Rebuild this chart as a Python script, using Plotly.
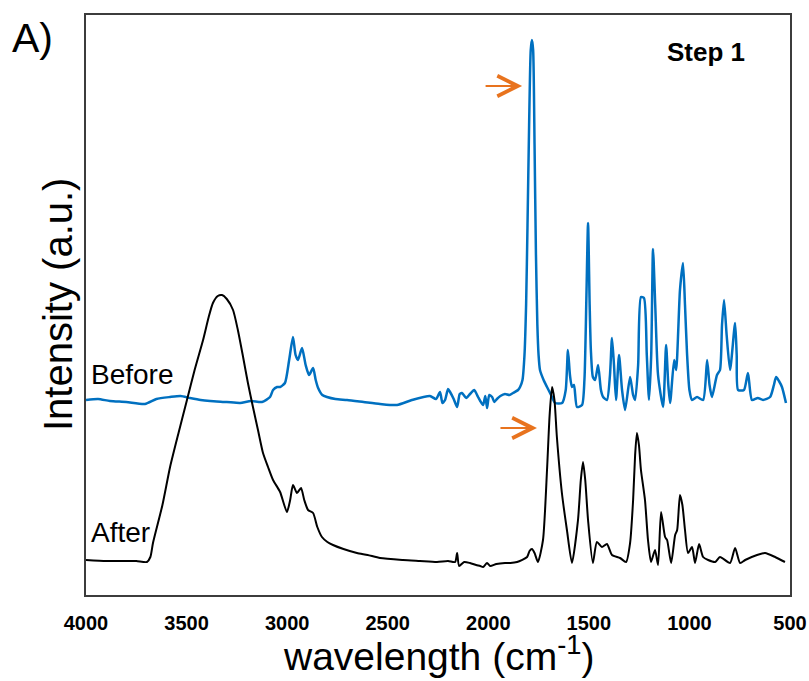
import plotly.graph_objects as go

# Before (blue) spectrum: wavenumber (cm-1) and intensity (a.u.)
before_wn = [4000, 3940, 3881, 3800, 3707, 3650, 3582, 3530, 3483, 3430, 3383, 3300, 3234,
             3180, 3125, 3085, 3070, 3050, 3035, 3011, 2990, 2971, 2958, 2946, 2926, 2908,
             2891, 2871, 2858, 2846, 2825, 2802, 2760, 2702, 2620, 2538, 2454, 2380, 2290,
             2260, 2240, 2228, 2215, 2200, 2190, 2172, 2155, 2142, 2131, 2110, 2091, 2070,
             2051, 2040, 2026, 2015, 2006, 1995, 1981, 1970, 1957, 1940, 1917, 1895, 1877,
             1852, 1842, 1830, 1820, 1812, 1805, 1797, 1789, 1783, 1777, 1770, 1763, 1756,
             1750, 1743, 1725, 1708, 1688, 1668, 1633, 1615, 1604, 1594, 1584, 1574, 1559,
             1534, 1522, 1512, 1504, 1496, 1490, 1480, 1469, 1454, 1440, 1429, 1410, 1395,
             1385, 1375, 1365, 1350, 1335, 1320, 1295, 1280, 1270, 1255, 1241, 1226, 1212,
             1201, 1190, 1181, 1170, 1156, 1131, 1116, 1105, 1096, 1076, 1066, 1047, 1032,
             1022, 1012, 1000, 987, 962, 932, 912, 900, 888, 863, 848, 838, 828, 815, 798,
             773, 765, 758, 729, 709, 689, 660, 634, 599, 580, 569, 555, 540, 520]
before_int = [195, 196, 194, 193, 191, 196, 198, 199, 197, 195, 194, 193, 192,
              194, 193, 198, 205, 208, 208, 212, 235, 258, 240, 235, 247, 230,
              220, 227, 215, 207, 200, 198, 196, 195, 193, 191, 190, 195, 199,
              196, 203, 192, 195, 206, 203, 196, 188, 201, 202, 197, 201, 205,
              198, 194, 190, 199, 187, 200, 198, 193, 196, 199, 201, 200, 202,
              205, 208, 215, 240, 290, 370, 470, 545, 555, 545, 450, 340, 270,
              240, 225, 215, 208, 200, 192, 192, 205, 245, 220, 208, 210, 188,
              190, 215, 300, 372, 290, 245, 218, 215, 230, 205, 198, 195, 220,
              257, 230, 195, 240, 205, 185, 218, 200, 195, 230, 298, 297, 240,
              195, 240, 346, 290, 220, 188, 250, 210, 192, 235, 225, 305, 332,
              290, 242, 205, 195, 198, 195, 235, 210, 198, 220, 225, 270, 295, 260, 225,
              272, 240, 205, 205, 222, 195, 197, 195, 198, 210, 218, 214, 208, 192]

# After (black) spectrum
after_wn = [4000, 3900, 3831, 3750, 3697, 3680, 3667, 3620, 3582, 3540, 3498, 3460, 3418,
            3390, 3369, 3345, 3324, 3300, 3269, 3245, 3219, 3195, 3170, 3145, 3120, 3095,
            3070, 3035, 3001, 2985, 2971, 2951, 2931, 2915, 2896, 2871, 2850, 2827, 2800,
            2772, 2720, 2653, 2600, 2538, 2424, 2340, 2255, 2200, 2165, 2155, 2145, 2120,
            2091, 2060, 2040, 2026, 2006, 1991, 1960, 1917, 1890, 1857, 1807, 1795, 1783,
            1770, 1753, 1728, 1708, 1695, 1683, 1671, 1659, 1634, 1609, 1584, 1554, 1540,
            1529, 1518, 1504, 1480, 1460, 1435, 1410, 1385, 1345, 1315, 1295, 1280, 1270,
            1261, 1251, 1241, 1221, 1206, 1191, 1171, 1156, 1141, 1121, 1111, 1091, 1071,
            1061, 1047, 1035, 1022, 1007, 987, 972, 952, 932, 907, 872, 848, 798, 773, 748,
            723, 664, 624, 574, 525]
after_int = [35, 34, 34, 34, 33, 38, 52, 90, 128, 162, 195, 225, 255,
             278, 292, 299, 300, 296, 285, 265, 238, 212, 188, 165, 142, 128,
             115, 103, 83, 95, 110, 102, 107, 95, 85, 82, 68, 58, 53,
             50, 46, 42, 40, 37, 35, 34, 33, 34, 33, 42, 29, 33,
             32, 30, 29, 28, 32, 29, 31, 32, 32, 33, 38, 44, 46,
             42, 33, 55, 125, 180, 208, 195, 158, 102, 65, 32, 75, 115,
             133, 115, 75, 32, 53, 48, 51, 40, 37, 33, 52, 95, 140,
             162, 150, 125, 95, 55, 33, 45, 30, 83, 58, 55, 32, 60,
             65, 100, 90, 65, 42, 48, 32, 51, 38, 35, 33, 38, 32, 47, 32,
             35, 40, 42, 38, 33]

x_ticks = [4000, 3500, 3000, 2500, 2000, 1500, 1000, 500]
series_labels = ["Before", "After"]
arrow_targets_wn = [1832, 1758]
arrow_targets_int = [509, 167]

ORANGE = "#E8731E"
FONT = "Liberation Sans, Arial, sans-serif"

fig = go.Figure()
fig.add_trace(go.Scatter(x=before_wn, y=before_int, mode="lines",
                         line=dict(color="#0070C0", width=2.5, shape="spline", smoothing=0.6),
                         name=series_labels[0]))
fig.add_trace(go.Scatter(x=after_wn, y=after_int, mode="lines",
                         line=dict(color="#000000", width=2, shape="spline", smoothing=0.6),
                         name=series_labels[1]))

annotations = [
    dict(text="A)", xref="paper", yref="paper", x=-0.108, y=1.004, xanchor="left", yanchor="top",
         showarrow=False, font=dict(family=FONT, size=41, color="black")),
    dict(text="<b>Step 1</b>", xref="paper", yref="paper", x=0.822, y=0.936, xanchor="left",
         yanchor="middle", showarrow=False, font=dict(family=FONT, size=26, color="black")),
    dict(text=series_labels[0], xref="paper", yref="paper", x=0.004, y=(595 - 374) / 580,
         xanchor="left", yanchor="middle", showarrow=False,
         font=dict(family=FONT, size=28, color="black")),
    dict(text=series_labels[1], xref="paper", yref="paper", x=0.004, y=(595 - 532) / 580,
         xanchor="left", yanchor="middle", showarrow=False,
         font=dict(family=FONT, size=28, color="black")),
    dict(text="Intensity (a.u.)", xref="paper", yref="paper", x=(58 - 86) / 704, y=0.5,
         xanchor="center", yanchor="middle", textangle=-90, showarrow=False,
         font=dict(family=FONT, size=40, color="black")),
    dict(text="wavelength (cm<sup>-1</sup>)", xref="paper", yref="paper", x=0.5,
         y=(595 - 653) / 580, xanchor="center", yanchor="middle", showarrow=False,
         font=dict(family=FONT, size=39, color="black")),
]
for wn, it in zip(arrow_targets_wn, arrow_targets_int):
    annotations.append(dict(x=wn, y=it, xref="x", yref="y", ax=-38, ay=0, text="",
                            showarrow=True, arrowhead=5, arrowsize=2, arrowwidth=2,
                            arrowcolor=ORANGE, standoff=0))

fig.update_layout(
    width=809, height=681,
    margin=dict(l=86, r=19, t=15, b=86),
    paper_bgcolor="white", plot_bgcolor="white",
    showlegend=False,
    annotations=annotations,
    xaxis=dict(range=[4000, 500], tickvals=x_ticks, ticktext=[str(v) for v in x_ticks],
               automargin=False,
               showgrid=False, zeroline=False, showline=True, mirror=True,
               linecolor="#3c3c3c", linewidth=2, ticks="", ticklabelstandoff=9,
               tickfont=dict(family=FONT, size=20, color="black", weight="bold")),
    yaxis=dict(range=[0, 580], showticklabels=False, showgrid=False, zeroline=False,
               automargin=False,
               showline=True, mirror=True, linecolor="#3c3c3c", linewidth=2, ticks=""),
)

fig.write_html("out.html", config={"displayModeBar": False},
               post_script="document.body.style.margin='0';document.body.style.padding='0';"
                           "document.body.style.overflow='hidden';")
